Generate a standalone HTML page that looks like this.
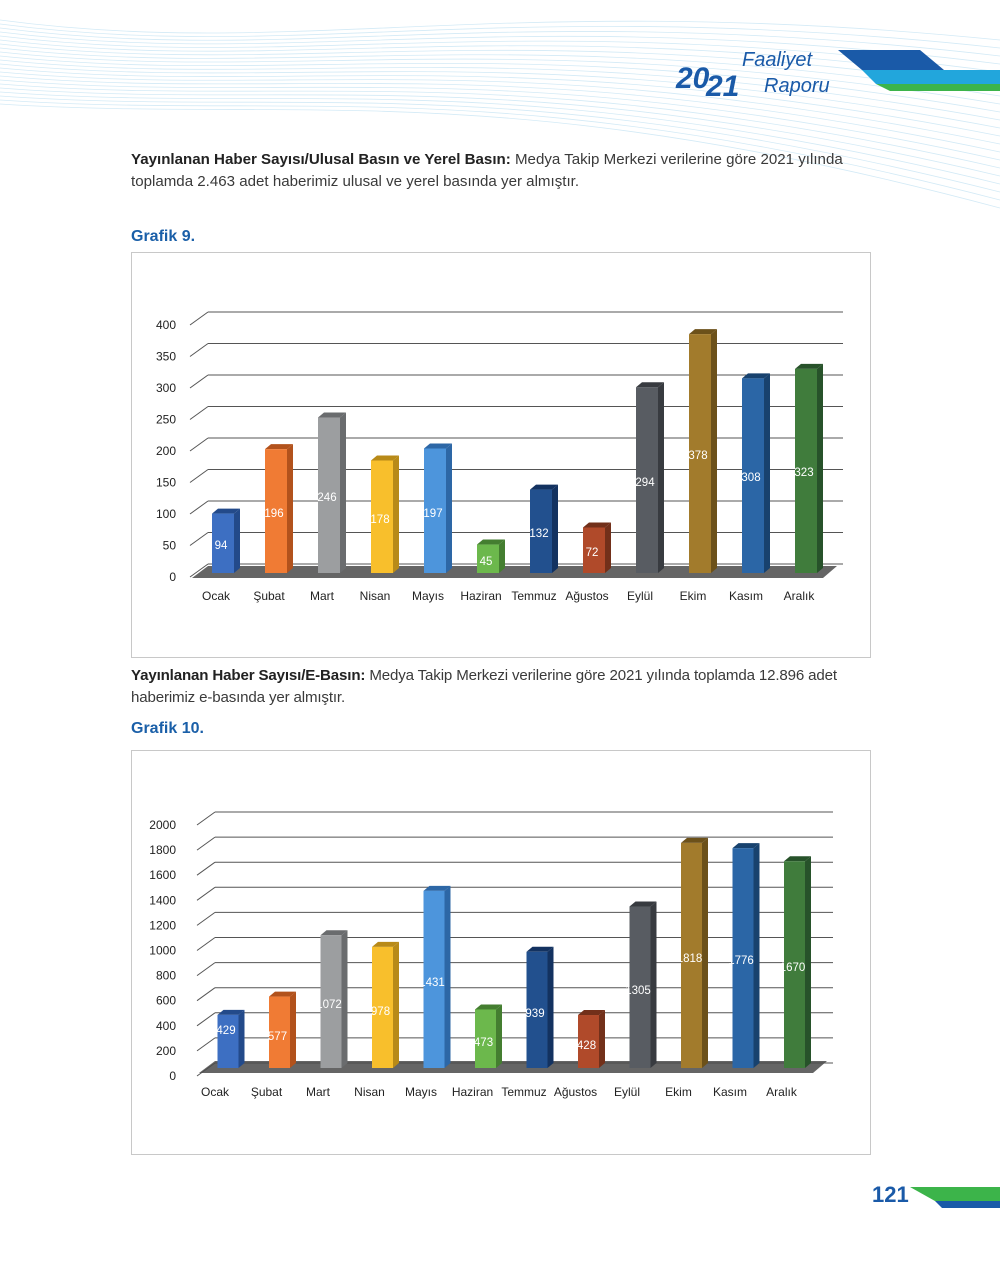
<!DOCTYPE html>
<html><head><meta charset="utf-8">
<style>
html,body{margin:0;padding:0;background:#fff;}
body{width:1000px;height:1261px;position:relative;overflow:hidden;font-family:"Liberation Sans",sans-serif;}
.p{position:absolute;left:131px;width:742px;font-size:15.1px;line-height:22px;color:#3a3a3a;}
.p b{color:#222;}
.g{position:absolute;left:131px;font-size:16px;font-weight:bold;color:#1a5fa8;}
.box{position:absolute;border:1px solid #c8c8c8;}
svg text{font-family:"Liberation Sans",sans-serif;}
</style></head><body>
<svg style="position:absolute;left:0;top:0" width="1000" height="220">
<g stroke="#d3eaf6" stroke-width="0.8" fill="none" id="waves"></g>
<polygon points="838,50 920,50 944,70 862,70" fill="#1a5aa8"/>
<polygon points="862,70 1000,70 1000,84 876,84" fill="#22a6dc"/>
<polygon points="876,84 1000,84 1000,91 890,91" fill="#3cb44a"/>
<text x="676" y="88" font-size="30" font-weight="bold" fill="#1a5aa8" font-style="italic">20</text>
<text x="706" y="96" font-size="30" font-weight="bold" fill="#1a5aa8" font-style="italic">21</text>
<text x="742" y="66" font-size="20" fill="#1a5aa8" font-style="italic" font-family="Liberation Serif">Faaliyet</text>
<text x="764" y="92" font-size="20" fill="#1a5aa8" font-style="italic" font-family="Liberation Serif">Raporu</text>
</svg>
<div class="p" style="top:149px"><b>Yayınlanan Haber Sayısı/Ulusal Basın ve Yerel Basın:</b> Medya Takip Merkezi verilerine göre 2021 yılında toplamda 2.463 adet haberimiz ulusal ve yerel basında yer almıştır.</div>
<div class="g" style="top:228px">Grafik 9.</div>
<div class="box" style="left:131px;top:252px;width:738px;height:404px"></div>
<div class="p" style="top:665px;letter-spacing:-0.15px"><b>Yayınlanan Haber Sayısı/E-Basın:</b> Medya Takip Merkezi verilerine göre 2021 yılında toplamda 12.896 adet haberimiz e-basında yer almıştır.</div>
<div class="g" style="top:720px">Grafik 10.</div>
<div class="box" style="left:131px;top:750px;width:738px;height:403px"></div>
<svg id="c" style="position:absolute;left:0;top:0" width="1000" height="1261"></svg>
<div style="position:absolute;left:872px;top:1182px;font-size:22px;font-weight:bold;color:#1a5aa8;">121</div>
<svg style="position:absolute;left:900px;top:1185px" width="100" height="26">
<polygon points="10,2 100,2 100,16 35,16" fill="#3cb44a"/>
<polygon points="35,16 100,16 100,23 42,23" fill="#1a5aa8"/>
</svg>
<script>
var w=document.getElementById('waves'),s='';
for(var i=0;i<22;i++){s+='<path d="M0,'+(20+i*4)+' C300,'+(60+i*3)+' 500,'+(-10+i*4)+' 1000,'+(40+i*8)+'"/>';}
w.innerHTML=s;
var m=['Ocak','Şubat','Mart','Nisan','Mayıs','Haziran','Temmuz','Ağustos','Eylül','Ekim','Kasım','Aralık'];
var col=[['#3d6fc2','#234a8a'],['#f07b34','#b2521c'],['#9c9ea0','#6a6c6e'],['#f8bf2c','#b88a18'],['#4d95dc','#2d67a6'],['#6cb84c','#447e30'],['#22508e','#133260'],['#b04a2a','#72301a'],['#585c62','#383b40'],['#a27b2c','#6c511a'],['#2b66a6','#18426e'],['#407c3c','#27522a']];
function chart(o){
 var h='';
 for(var k=0;k<=o.n;k++){
  var yb=o.backTop+k*o.gs, yf=yb+13;
  h+='<line x1="'+o.fx+'" y1="'+yf+'" x2="'+(o.fx+18)+'" y2="'+yb+'" stroke="#555" stroke-width="1"/>';
  h+='<line x1="'+(o.fx+18)+'" y1="'+yb+'" x2="'+o.ex+'" y2="'+yb+'" stroke="#555" stroke-width="1"/>';
  h+='<text x="176" y="'+(yf+4)+'" font-size="12" text-anchor="end" fill="#222">'+((o.n-k)*o.step)+'</text>';
 }
 var by=o.bottom;
 h+='<polygon points="'+(o.fx+2)+','+(by+5)+' '+(o.fx+18)+','+(by-7)+' '+(o.ex-6)+','+(by-7)+' '+(o.ex-20)+','+(by+5)+'" fill="#4a4a4a" opacity="0.85"/>';
 for(var i=0;i<12;i++){
  var cx=o.c0+i*o.sp, x=cx-o.bw/2, v=o.v[i], t=by-v*o.sc, c=col[i];
  h+='<polygon points="'+(x+o.bw)+','+t+' '+(x+o.bw+6)+','+(t-5)+' '+(x+o.bw+6)+','+(by-5)+' '+(x+o.bw)+','+by+'" fill="'+c[1]+'"/>';
  h+='<polygon points="'+x+','+t+' '+(x+6)+','+(t-5)+' '+(x+o.bw+6)+','+(t-5)+' '+(x+o.bw)+','+t+'" fill="'+c[1]+'"/>';
  h+='<rect x="'+x+'" y="'+t+'" width="'+o.bw+'" height="'+(by-t)+'" fill="'+c[0]+'"/>';
  h+='<text x="'+(cx-2)+'" y="'+o.ly[i]+'" font-size="11.5" text-anchor="middle" fill="#fff">'+v+'</text>';
  h+='<text x="'+(cx+o.mo)+'" y="'+o.my+'" font-size="12" text-anchor="middle" fill="#222">'+m[i]+'</text>';
 }
 return h;
}
var a=chart({n:8,step:50,backTop:312,gs:31.5,fx:190,ex:843,bottom:573,sc:0.632,c0:223,sp:53,bw:22,my:600,mo:-7,
 v:[94,196,246,178,197,45,132,72,294,378,308,323],ly:[549,517,501,523,517,565,537,556,486,459,481,476]});
var b=chart({n:10,step:200,backTop:812,gs:25.1,fx:197,ex:833,bottom:1068,sc:0.1238,c0:228,sp:51.5,bw:21,my:1096,mo:-13,
 v:[429,577,1072,978,1431,473,939,428,1305,1818,1776,1670],ly:[1034,1040,1008,1015,986,1046,1017,1049,994,962,964,971]});
document.getElementById('c').innerHTML=a+b;
</script>
</body></html>
